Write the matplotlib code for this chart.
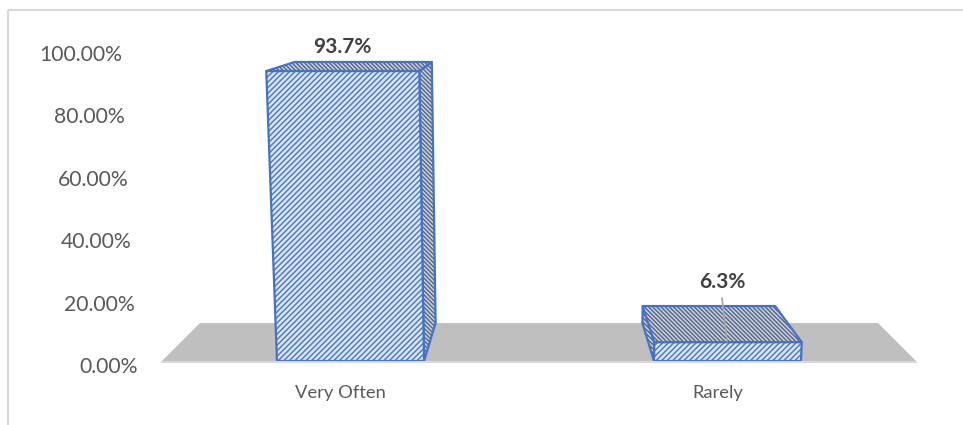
import matplotlib
matplotlib.use('Agg')
import matplotlib.pyplot as plt
from matplotlib.patches import Polygon, Rectangle

# ---- data ----
categories = ['Very Often', 'Rarely']
values = [93.7, 6.3]  # percent
y_ticks = [0, 20, 40, 60, 80, 100]
y_tick_labels = ['0.00%', '20.00%', '40.00%', '60.00%', '80.00%', '100.00%']

# ---- style ----
FONT = 'Lato'
TICK_COLOR = '#595959'
LABEL_COLOR = '#404040'
EDGE = '#4472c4'
FRONT_FILL, FRONT_HATCH = '#dde6f5', '#4f7cc9'
DARK_FILL, DARK_HATCH = '#cdd5e3', '#5b6b88'
FLOOR = '#bfbfbf'
BAR_WIDTH = 0.39
label_offsets = [(0, 24), (-6, 60)]   # (dx, dy) pixels from top-front centre
leader = [False, True]

plt.rcParams['hatch.linewidth'] = 1.1

W, H = 963, 425
fig = plt.figure(figsize=(W / 100, H / 100), dpi=100)
ax = fig.add_axes([0, 0, 1, 1])
ax.set_xlim(0, W)
ax.set_ylim(H, 0)
ax.axis('off')

# perspective camera (view parameters)
CX, FX, A, B = 539, 377, 0.112, 0.042
CY, P, Q, R = 200, 304, 24.2, -161


def proj(X, y, z):
    D = 1 + A * z - B * y
    return (CX + FX * X / D, CY - (P * y + Q * z + R) / D)


def face(pts, fill, hatch_color, hatch):
    xy = [proj(*p) for p in pts]
    ax.add_patch(Polygon(xy, closed=True, facecolor=fill, edgecolor=hatch_color,
                         lw=0, hatch=hatch))
    ax.add_patch(Polygon(xy, closed=True, fill=False, edgecolor=EDGE, lw=1.6,
                         joinstyle='round'))


# chart frame
ax.add_patch(Rectangle((8, 10), 1200, 800, fill=False, edgecolor='#d9d9d9', lw=1.5))

n = len(categories)
# floor
floor = [(-n / 2, 0, 0), (n / 2, 0, 0), (n / 2, 0, 1), (-n / 2, 0, 1)]
ax.add_patch(Polygon([proj(*p) for p in floor], closed=True, facecolor=FLOOR,
                     edgecolor='none'))
fx0, fy0 = proj(-n / 2, 0, 0)
fx1, fy1 = proj(n / 2, 0, 0)
ax.plot([fx0, fx1], [fy0 + 0.5, fy1 + 0.5], color='#d9d9d9', lw=1.5)

# y tick labels (drawn on slanted axis plane)
for t, lab in zip(y_ticks, y_tick_labels):
    f = t / 100
    ax.text(138 - 16 * f, 367 - 312 * f, lab, ha='right', va='center',
            fontsize=15.2, color=TICK_COLOR, family=FONT)

for i, (cat, v) in enumerate(zip(categories, values)):
    Xc = i - (n - 1) / 2
    x0, x1 = Xc - BAR_WIDTH / 2, Xc + BAR_WIDTH / 2
    h = v / 100
    # visible side face
    if x1 < 0:
        side = [(x1, 0, 0), (x1, 0, 1), (x1, h, 1), (x1, h, 0)]
    else:
        side = [(x0, 0, 0), (x0, 0, 1), (x0, h, 1), (x0, h, 0)]
    face(side, DARK_FILL, DARK_HATCH, '\\' * 8)
    top = [(x0, h, 0), (x1, h, 0), (x1, h, 1), (x0, h, 1)]
    face(top, DARK_FILL, DARK_HATCH, '\\' * 8)
    front = [(x0, 0, 0), (x1, 0, 0), (x1, h, 0), (x0, h, 0)]
    face(front, FRONT_FILL, FRONT_HATCH, '/' * 6)

    # value label
    ax_, ay_ = proj(Xc, h, 0)
    dx, dy = label_offsets[i]
    lx, ly = ax_ + dx, ay_ - dy
    ax.text(lx, ly, f'{v:.1f}%', ha='center', va='center', fontsize=15,
            fontweight='bold', color=LABEL_COLOR, family=FONT)
    if leader[i]:
        ax.plot([lx, ax_ - 1], [ly + 16, ay_ - 1], color='#a6a6a6', lw=1.2)

    # category label
    bx, by = proj(Xc, 0, 0)
    ax.text(bx - 10, by + 32, cat, ha='center', va='center', fontsize=13.2,
            color=TICK_COLOR, family=FONT)

fig.savefig('out.png', dpi=100)
